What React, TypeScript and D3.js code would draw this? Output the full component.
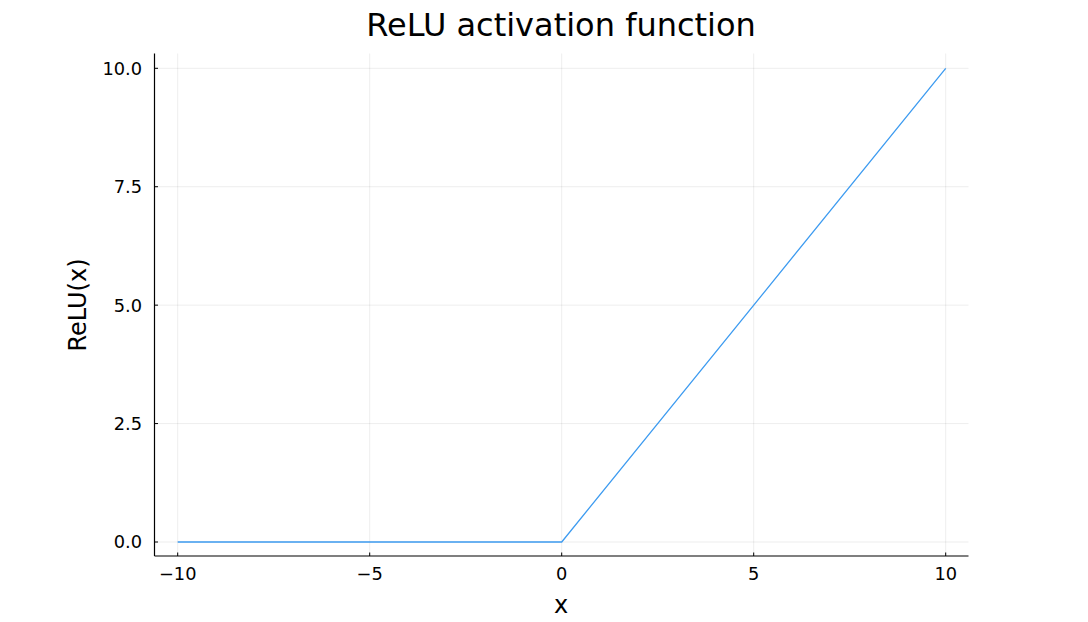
import React from "react";
import * as d3 from "d3";

const xValues = [-10, 0, 10];
const yValues = [0, 0, 10];
const xTicks = [-10, -5, 0, 5, 10];
const yTicks = [0, 2.5, 5, 7.5, 10];
const title = "ReLU activation function";
const xLabel = "x";
const yLabel = "ReLU(x)";

export default function App() {
  const W = 1088, H = 622;
  const left = 154.5, right = 968.5, top = 53.5, bottom = 556;
  const x = d3.scaleLinear().domain([-10, 10]).range([177.7, 945.7]);
  const y = d3.scaleLinear().domain([0, 10]).range([542, 68.3]);
  const line = d3.line<number>().x((_, i) => x(xValues[i])).y((d) => y(d));
  const font = "'DejaVu Sans', sans-serif";
  const fmtX = (v: number) => (v < 0 ? "\u2212" + Math.abs(v) : String(v));
  return (
    <svg width={W} height={H} style={{ position: "absolute", left: 0, top: 0 }} fontFamily={font}>
      <rect width={W} height={H} fill="#fff" />
      {xTicks.map((t) => (
        <line key={"gx" + t} x1={x(t)} x2={x(t)} y1={top} y2={bottom} stroke="#000" strokeOpacity={0.1} strokeWidth={0.7} />
      ))}
      {yTicks.map((t) => (
        <line key={"gy" + t} x1={left} x2={right} y1={y(t)} y2={y(t)} stroke="#000" strokeOpacity={0.1} strokeWidth={0.7} />
      ))}
      <path d={line(yValues) || ""} fill="none" stroke="#3d9bf0" strokeWidth={1.3} />
      <line x1={left} x2={left} y1={top} y2={bottom} stroke="#000" strokeWidth={1.2} />
      <line x1={left} x2={right} y1={bottom} y2={bottom} stroke="#000" strokeWidth={1.2} />
      {xTicks.map((t) => (
        <g key={"tx" + t}>
          <line x1={x(t)} x2={x(t)} y1={bottom} y2={bottom - 3.5} stroke="#000" strokeWidth={1} />
          <text x={x(t)} y={580} textAnchor="middle" fontSize={17.8}>{fmtX(t)}</text>
        </g>
      ))}
      {yTicks.map((t) => (
        <g key={"ty" + t}>
          <line x1={left} x2={left + 3.5} y1={y(t)} y2={y(t)} stroke="#000" strokeWidth={1} />
          <text x={left - 12.5} y={y(t)} dy="0.36em" textAnchor="end" fontSize={17.8}>{t.toFixed(1)}</text>
        </g>
      ))}
      <text x={561} y={35.5} textAnchor="middle" fontSize={32}>{title}</text>
      <text x={561} y={612.5} textAnchor="middle" fontSize={24}>{xLabel}</text>
      <text transform={`translate(85.5,305) rotate(-90)`} textAnchor="middle" fontSize={24}>{yLabel}</text>
    </svg>
  );
}
